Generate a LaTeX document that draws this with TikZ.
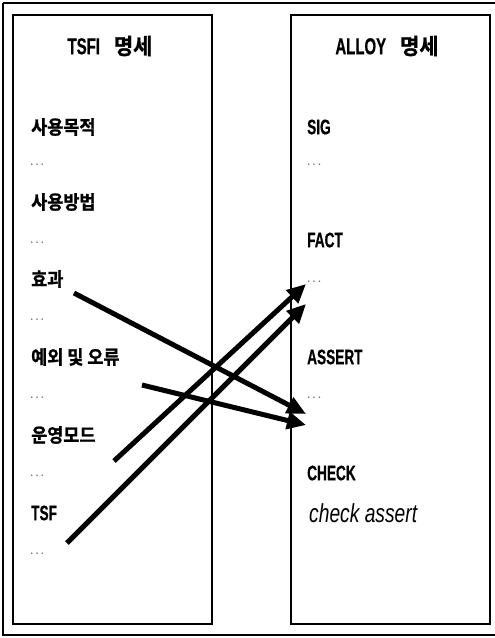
\documentclass[tikz,border=0pt]{standalone}
\usepackage{fontspec}
\usetikzlibrary{arrows.meta}
\newfontfamily\krb[FakeStretch=0.92,FakeBold=1.2]{Noto Sans CJK KR Bold}
\newfontfamily\krh[FakeStretch=0.95,FakeBold=1.3]{Noto Sans CJK KR Bold}
\newfontfamily\latnb[FakeStretch=0.65,FakeBold=0.6]{Liberation Sans Bold}
\newfontfamily\latni[FakeStretch=0.74]{Liberation Sans Italic}
\begin{document}
\begin{tikzpicture}[x=1pt,y=-1pt,
  box/.style={draw,line width=1.5pt,minimum width=199pt,minimum height=609pt,inner sep=0pt},
  hdr/.style={inner sep=0pt},
  item/.style={anchor=west,inner sep=0pt,font=\krb\fontsize{19}{21}\selectfont},
  litem/.style={anchor=west,inner sep=0pt,font=\latnb\fontsize{21}{23}\selectfont},
  dotsn/.style={anchor=west,inner sep=0pt,text=black!60,font=\bfseries\fontsize{11}{12}\selectfont},
  arr/.style={line width=5pt,-{Triangle[length=19pt,width=17pt]}}]
\useasboundingbox (0,0) rectangle (495,638);
\draw[line width=2pt] (2.5,2.5) -- (2.5,635) -- (497,635);
\draw[line width=2pt] (2.5,2.5) -- (497,2.5);
\node[box] (L) at (112.5,319.5) {};
\node[box] (R) at (390.5,319.5) {};
\node[hdr] (lh) at (110,46) {\latnb\fontsize{23}{25}\selectfont TSFI\hspace{14pt}\krh\fontsize{22}{24}\selectfont 명세};
\node[hdr] (rh) at (387,46) {\latnb\fontsize{23}{25}\selectfont ALLOY\hspace{14pt}\krh\fontsize{22}{24}\selectfont 명세};
% left items
\node[item] (l1) at (31,127) {사용목적};
\node[dotsn] (d1) at (30,165) {.\,.\,.};
\node[item] (l2) at (31,202) {사용방법};
\node[dotsn] (d2) at (30,243) {.\,.\,.};
\node[item] (l3) at (31,279) {효과};
\node[dotsn] (d3) at (30,320) {.\,.\,.};
\node[item] (l4) at (31,357) {예외 및 오류};
\node[dotsn] (d4) at (30,398) {.\,.\,.};
\node[item] (l5) at (31,435) {운영모드};
\node[dotsn] (d5) at (30,476) {.\,.\,.};
\node[litem] (l6) at (31,513) {TSF};
\node[dotsn] (d6) at (30,554) {.\,.\,.};
% right items
\node[litem] (r1) at (307,127) {SIG};
\node[dotsn] (e1) at (307,165) {.\,.\,.};
\node[litem] (r2) at (307,240) {FACT};
\node[dotsn] (e2) at (307,282) {.\,.\,.};
\node[litem] (r3) at (307,357) {ASSERT};
\node[dotsn] (e3) at (307,398) {.\,.\,.};
\node[litem] (r4) at (307,473) {CHECK};
\node[anchor=west,inner sep=0pt,font=\latni\fontsize{26}{28}\selectfont] (r5) at (309,513) {check assert};
% arrows
\coordinate (s1) at (74,293);
\coordinate (t1) at (306,414);
\coordinate (s2) at (142,385);
\coordinate (t2) at (306,425);
\coordinate (s3) at (114,461);
\coordinate (t3) at (306,284);
\coordinate (s4) at (67,543);
\coordinate (t4) at (306,304);
\draw[arr] (s1) -- (t1);
\draw[arr] (s2) -- (t2);
\draw[arr] (s3) -- (t3);
\draw[arr] (s4) -- (t4);
\end{tikzpicture}
\end{document}
